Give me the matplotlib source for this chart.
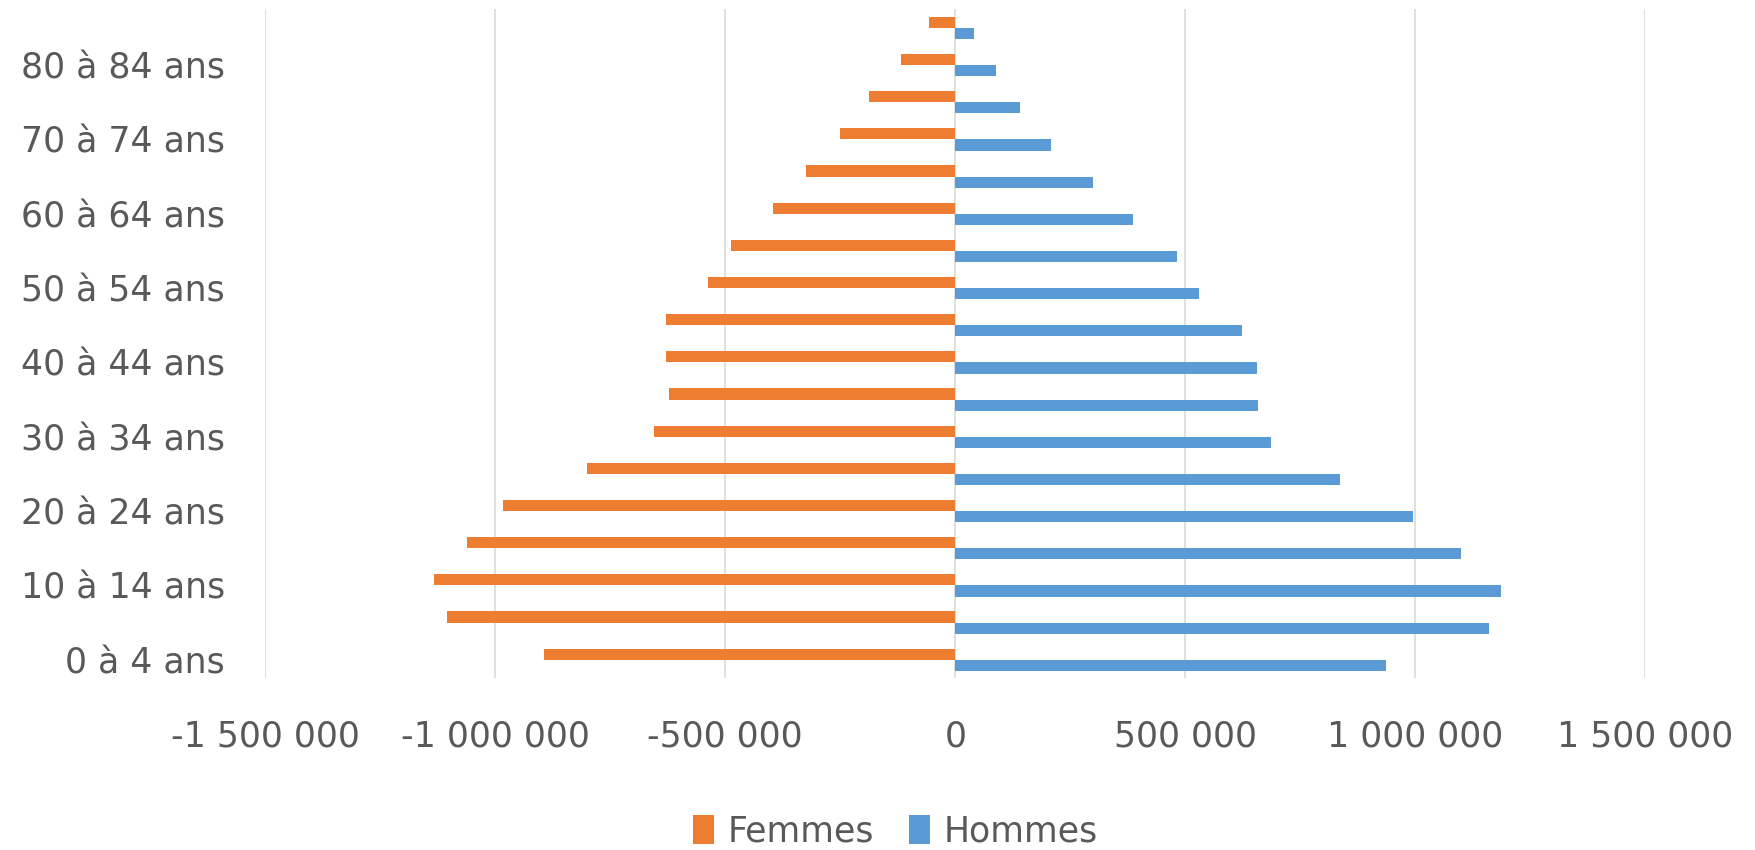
import matplotlib.pyplot as plt
import matplotlib.ticker as ticker
import numpy as np

plt.rcParams.update({
    'font.family': 'DejaVu Sans',
    'font.size': 25,
})

# ── Données ────────────────────────────────────────────────────────────
ages = ['0 à 4 ans', '5 à 9 ans', '10 à 14 ans', '15 à 19 ans', '20 à 24 ans',
        '25 à 29 ans', '30 à 34 ans', '35 à 39 ans', '40 à 44 ans', '45 à 49 ans',
        '50 à 54 ans', '55 à 59 ans', '60 à 64 ans', '65 à 69 ans', '70 à 74 ans',
        '75 à 79 ans', '80 à 84 ans', '85 ans ou plus']

femmes = [-893000, -1105000, -1134000, -1061000, -983000, -800000, -655000,
          -623000, -628000, -628000, -538000, -487000, -397000, -324000,
          -251000, -187000, -119000, -56000]
hommes = [937000, 1161000, 1187000, 1100000, 995000, 837000, 686000, 659000,
          655000, 623000, 530000, 482000, 387000, 299000, 209000, 141000,
          88000, 41000]

xticks = [-1500000, -1000000, -500000, 0, 500000, 1000000, 1500000]

c_f = '#ED7D31'
c_h = '#5B9BD5'
txt = '#595959'

fig = plt.figure(figsize=(17.56, 8.5), dpi=100)
ax = fig.add_axes([0.151, 0.202, 0.786, 0.787])

y = np.arange(len(ages))
h = 0.3
ax.barh(y + h / 2, femmes, h, color=c_f, label='Femmes', zorder=3)
ax.barh(y - h / 2, hommes, h, color=c_h, label='Hommes', zorder=3)

ax.set_xlim(-1500000, 1500000)
ax.set_ylim(-0.5, len(ages) - 0.5)
ax.set_xticks(xticks)
ax.xaxis.set_major_formatter(ticker.FuncFormatter(
    lambda v, p: f'{int(v):,}'.replace(',', ' ')))
ax.set_yticks(y)
ax.set_yticklabels([a if i % 2 == 0 else '' for i, a in enumerate(ages)])

ax.grid(axis='x', color='#D9D9D9', lw=1.2, zorder=0)
for s in ax.spines.values():
    s.set_visible(False)
ax.tick_params(length=0, colors=txt, labelsize=25)
ax.tick_params(axis='x', pad=30)
ax.tick_params(axis='y', pad=29)

fig.legend(loc='center', bbox_to_anchor=(0.51, 0.022), ncol=2, frameon=False,
           handlelength=0.6, handleheight=0.9, handletextpad=0.4,
           columnspacing=1.0, fontsize=25, labelcolor=txt)

fig.savefig('out.png', dpi=100)
